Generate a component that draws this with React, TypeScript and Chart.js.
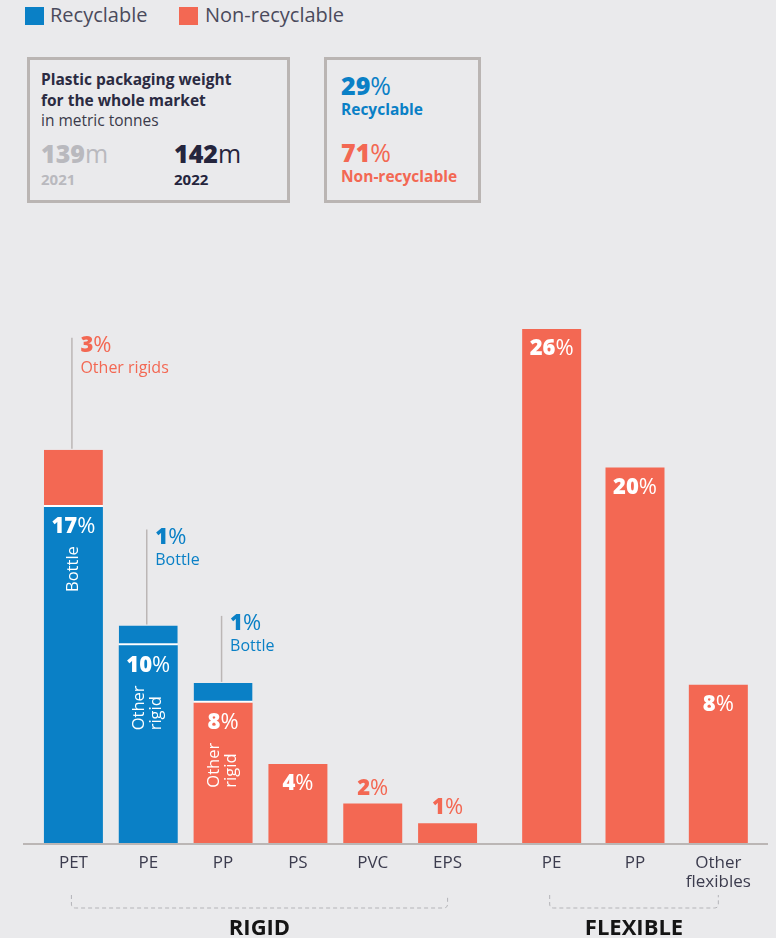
import React, { useEffect, useRef } from 'react';
import { Chart, registerables } from 'chart.js';

Chart.register(...registerables);

// ---------- data ----------
const rigidCategories = ['PET', 'PE', 'PP', 'PS', 'PVC', 'EPS'];
const rigidLowerValues = [17, 10, 7.1, 4, 2, 1];
const rigidLowerType = ['rec', 'rec', 'non', 'non', 'non', 'non'];
const rigidLowerLabels = ['17%', '10%', '8%', '4%', '2%', '1%'];
const rigidLowerNotes = ['Bottle', 'Other\nrigid', 'Other\nrigid', '', '', ''];
const rigidUpperValues = [2.9, 1, 1, 0, 0, 0];
const rigidUpperType = ['non', 'rec', 'rec', 'non', 'non', 'non'];
const rigidUpperLabels = ['3%', '1%', '1%', '', '', ''];
const rigidUpperNotes = ['Other rigids', 'Bottle', 'Bottle', '', '', ''];

const flexCategories: (string | string[])[] = ['PE', 'PP', ['Other', 'flexibles']];
const flexValues = [26, 19, 8];
const flexLabels = ['26%', '20%', '8%'];

const totals2021 = '139';
const totals2022 = '142';
const shareRecyclable = '29';
const shareNonRecyclable = '71';

// ---------- style ----------
const FONT = '"Open Sans", sans-serif';
const BLUE = '#0A80C6';
const RED = '#F36853';
const BG = '#EAEAEC';
const DARK = '#2B2B42';
const TICK = '#3C3C4E';
const LINE = '#BBB6B5';
const calloutRise = [112, 96, 67];
const PCT_SIZE = 22;

const colorOf = (t: string) => (t === 'rec' ? BLUE : RED);

function drawPct(ctx: CanvasRenderingContext2D, text: string, x: number, y: number, color: string, size: number, align: 'center' | 'left') {
  const num = text.replace('%', '');
  const bold = `800 ${size}px ${FONT}`;
  const reg = `400 ${size}px ${FONT}`;
  ctx.font = bold;
  const w1 = ctx.measureText(num).width;
  ctx.font = reg;
  const w2 = ctx.measureText('%').width;
  const start = align === 'center' ? x - (w1 + w2) / 2 : x;
  ctx.fillStyle = color;
  ctx.textBaseline = 'middle';
  ctx.textAlign = 'left';
  ctx.font = bold;
  ctx.fillText(num, start, y);
  ctx.font = reg;
  ctx.fillText('%', start + w1, y);
}

function drawRotatedNote(ctx: CanvasRenderingContext2D, note: string, x: number, startY: number) {
  const lines = note.split('\n');
  ctx.save();
  ctx.translate(x, startY);
  ctx.rotate(-Math.PI / 2);
  ctx.font = `400 16.5px ${FONT}`;
  ctx.fillStyle = '#ffffff';
  ctx.textAlign = 'left';
  ctx.textBaseline = 'middle';
  const gap = 17;
  const off = -((lines.length - 1) * gap) / 2;
  lines.forEach((l, k) => ctx.fillText(l, 0, off + k * gap));
  ctx.restore();
}

function drawBarLabel(ctx: CanvasRenderingContext2D, bar: any, label: string, note: string, color: string) {
  const { x, y, base } = bar.getProps(['x', 'y', 'base'], true);
  const h = base - y;
  if (h >= 60) {
    drawPct(ctx, label, x, y + 20, '#ffffff', PCT_SIZE, 'center');
    if (note) drawRotatedNote(ctx, note, x, y + 85);
  } else {
    drawPct(ctx, label, x, y - 15, color, PCT_SIZE, 'center');
  }
}

function groupPlugin(title: string, lineFrom: number, lineTo: number | null) {
  return {
    id: 'group-' + title,
    afterDatasetsDraw(chart: any) {
      const ctx: CanvasRenderingContext2D = chart.ctx;
      const area = chart.chartArea;
      const xs = chart.scales.x;
      const n = chart.data.labels.length;
      ctx.save();
      // baseline
      ctx.strokeStyle = LINE;
      ctx.lineWidth = 2;
      ctx.beginPath();
      ctx.moveTo(lineFrom, area.bottom + 1);
      ctx.lineTo(lineTo == null ? chart.width : lineTo, area.bottom + 1);
      ctx.stroke();
      // brace
      const x1 = xs.getPixelForValue(0) - 2;
      const x2 = xs.getPixelForValue(n - 1);
      const y0 = area.bottom + 52;
      const y1 = area.bottom + 65;
      const r = 4;
      ctx.setLineDash([4, 3]);
      ctx.strokeStyle = '#B4B4B8';
      ctx.lineWidth = 1;
      ctx.beginPath();
      ctx.moveTo(x1, y0);
      ctx.lineTo(x1, y1 - r);
      ctx.quadraticCurveTo(x1, y1, x1 + r, y1);
      ctx.lineTo(x2 - r, y1);
      ctx.quadraticCurveTo(x2, y1, x2, y1 - r);
      ctx.lineTo(x2, y0);
      ctx.stroke();
      ctx.setLineDash([]);
      // title
      ctx.font = `700 22px ${FONT}`;
      ctx.fillStyle = '#151515';
      ctx.textAlign = 'center';
      ctx.textBaseline = 'middle';
      ctx.fillText(title, (x1 + x2) / 2, area.bottom + 86);
      ctx.restore();
    },
  };
}

const rigidNotesPlugin = {
  id: 'rigidNotes',
  afterDatasetsDraw(chart: any) {
    const ctx: CanvasRenderingContext2D = chart.ctx;
    const lower = chart.getDatasetMeta(0).data;
    const upper = chart.getDatasetMeta(1).data;
    ctx.save();
    lower.forEach((bar: any, i: number) => {
      drawBarLabel(ctx, bar, rigidLowerLabels[i], rigidLowerNotes[i], colorOf(rigidLowerType[i]));
    });
    upper.forEach((bar: any, i: number) => {
      if (!rigidUpperLabels[i]) return;
      const { x, y } = bar.getProps(['x', 'y'], true);
      const color = colorOf(rigidUpperType[i]);
      const lx = x - 1.5;
      const top = y - calloutRise[i];
      ctx.strokeStyle = LINE;
      ctx.lineWidth = 1.5;
      ctx.beginPath();
      ctx.moveTo(lx, y - 1);
      ctx.lineTo(lx, top);
      ctx.stroke();
      drawPct(ctx, rigidUpperLabels[i], lx + 8.5, top + 8, color, PCT_SIZE, 'left');
      ctx.font = `400 16px ${FONT}`;
      ctx.fillStyle = color;
      ctx.textAlign = 'left';
      ctx.textBaseline = 'middle';
      ctx.fillText(rigidUpperNotes[i], lx + 8.5, top + 31);
    });
    ctx.restore();
  },
};

const flexNotesPlugin = {
  id: 'flexNotes',
  afterDatasetsDraw(chart: any) {
    const ctx: CanvasRenderingContext2D = chart.ctx;
    ctx.save();
    chart.getDatasetMeta(0).data.forEach((bar: any, i: number) => {
      drawBarLabel(ctx, bar, flexLabels[i], '', RED);
    });
    ctx.restore();
  },
};

function xScale() {
  return {
    stacked: true,
    grid: { display: false, drawTicks: false },
    border: { display: false },
    ticks: { color: TICK, font: { family: FONT, size: 17, lineHeight: 1.12 }, padding: 11, maxRotation: 0, autoSkip: false },
    afterFit: (s: any) => {
      s.height = 95;
    },
  };
}

const yScale = { stacked: true, display: false, min: 0, max: 30 };

function rigidConfig(): any {
  return {
    type: 'bar',
    data: {
      labels: rigidCategories,
      datasets: [
        {
          label: 'Lower segment',
          data: rigidLowerValues,
          backgroundColor: rigidLowerType.map(colorOf),
          borderWidth: 0,
          barPercentage: 0.788,
          categoryPercentage: 1,
        },
        {
          label: 'Upper segment',
          data: rigidUpperValues,
          backgroundColor: rigidUpperType.map(colorOf),
          borderColor: '#ffffff',
          borderSkipped: false,
          borderWidth: (c: any) => (rigidUpperValues[c.dataIndex] > 0 ? { top: 0, left: 0, right: 0, bottom: 2 } : 0),
          barPercentage: 0.788,
          categoryPercentage: 1,
        },
      ],
    },
    options: {
      animation: false,
      responsive: true,
      maintainAspectRatio: false,
      events: [],
      layout: { padding: { left: 36, right: 5, top: 20, bottom: 0 } },
      plugins: { legend: { display: false }, tooltip: { enabled: false } },
      scales: { x: xScale(), y: yScale },
    },
    plugins: [groupPlugin('RIGID', 23, null), rigidNotesPlugin],
  };
}

function flexConfig(): any {
  return {
    type: 'bar',
    data: {
      labels: flexCategories,
      datasets: [
        {
          label: 'Flexible',
          data: flexValues,
          backgroundColor: RED,
          borderWidth: 0,
          barPercentage: 0.708,
          categoryPercentage: 1,
        },
      ],
    },
    options: {
      animation: false,
      responsive: true,
      maintainAspectRatio: false,
      events: [],
      layout: { padding: { left: 20, right: 16, top: 20, bottom: 0 } },
      plugins: { legend: { display: false }, tooltip: { enabled: false } },
      scales: { x: xScale(), y: yScale },
    },
    plugins: [groupPlugin('FLEXIBLE', 0, 278), flexNotesPlugin],
  };
}

function ChartPanel({ make, style }: { make: () => any; style: React.CSSProperties }) {
  const ref = useRef<HTMLCanvasElement | null>(null);
  useEffect(() => {
    if (!ref.current) return;
    const c = new Chart(ref.current, make());
    return () => c.destroy();
  }, []);
  return (
    <div style={{ position: 'absolute', ...style }}>
      <canvas ref={ref} />
    </div>
  );
}

const abs = (left: number, top: number, size: number, weight: number, color: string, extra: React.CSSProperties = {}): React.CSSProperties => ({
  position: 'absolute',
  left,
  top,
  fontSize: size,
  fontWeight: weight,
  color,
  lineHeight: 1,
  whiteSpace: 'nowrap',
  ...extra,
});

function Big({ num }: { num: string }) {
  return (
    <>
      <span style={{ fontWeight: 800 }}>{num}</span>
      <span style={{ fontWeight: 400 }}>{'m'}</span>
    </>
  );
}

function Pct({ num }: { num: string }) {
  return (
    <>
      <span style={{ fontWeight: 800 }}>{num}</span>
      <span style={{ fontWeight: 400 }}>%</span>
    </>
  );
}

export default function App() {
  useEffect(() => {
    document.body.style.margin = '0';
    document.body.style.background = BG;
  }, []);
  const box: React.CSSProperties = {
    position: 'absolute',
    top: 57,
    height: 146,
    boxSizing: 'border-box',
    border: '3px solid #BAB5B3',
  };
  return (
    <div style={{ position: 'absolute', left: 0, top: 0, width: 776, height: 938, background: BG, fontFamily: FONT, overflow: 'hidden' }}>
      {/* legend */}
      <div style={{ position: 'absolute', left: 25, top: 7, width: 19, height: 18, background: BLUE }} />
      <div style={abs(50, 5, 20, 400, '#4A4A5C')}>Recyclable</div>
      <div style={{ position: 'absolute', left: 179, top: 7, width: 19, height: 18, background: RED }} />
      <div style={abs(205, 5, 20, 400, '#4A4A5C')}>Non-recyclable</div>

      {/* box 1 */}
      <div style={{ ...box, left: 27, width: 263 }} />
      <div style={abs(41, 72, 15.5, 700, DARK)}>Plastic packaging weight</div>
      <div style={abs(41, 92.5, 15.5, 700, DARK)}>for the whole market</div>
      <div style={abs(41, 113, 15.5, 400, '#3A3A4A')}>in metric tonnes</div>
      <div style={abs(41, 141, 25, 700, '#B9B9BE')}>
        <Big num={totals2021} />
      </div>
      <div style={abs(41, 172, 15, 700, '#B9B9BE')}>2021</div>
      <div style={abs(174, 141, 25, 700, '#25253D')}>
        <Big num={totals2022} />
      </div>
      <div style={abs(174, 172, 15, 700, '#25253D')}>2022</div>

      {/* box 2 */}
      <div style={{ ...box, left: 324, width: 157 }} />
      <div style={abs(341, 73, 25, 700, BLUE)}>
        <Pct num={shareRecyclable} />
      </div>
      <div style={abs(341, 102, 15.5, 700, BLUE)}>Recyclable</div>
      <div style={abs(341, 140, 25, 700, RED)}>
        <Pct num={shareNonRecyclable} />
      </div>
      <div style={abs(341, 168.5, 15.5, 700, RED)}>Non-recyclable</div>

      {/* charts */}
      <ChartPanel make={rigidConfig} style={{ left: 0, top: 230, width: 490, height: 708 }} />
      <ChartPanel make={flexConfig} style={{ left: 490, top: 230, width: 286, height: 708 }} />
    </div>
  );
}
